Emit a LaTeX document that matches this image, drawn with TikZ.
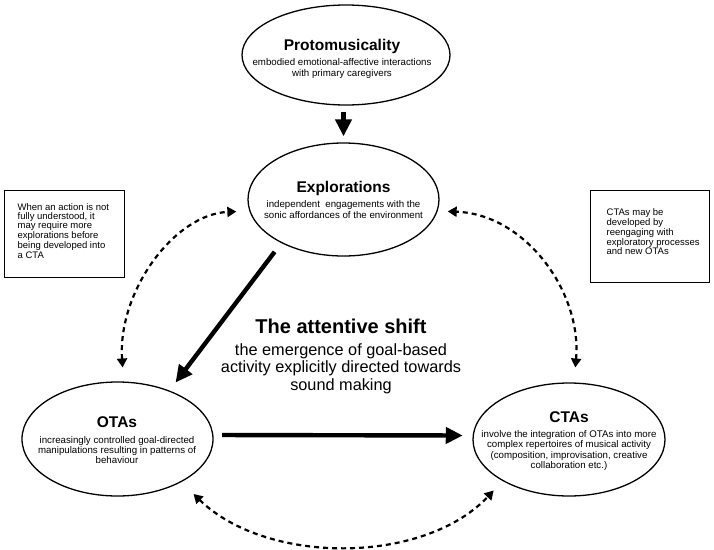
\documentclass[tikz,border=0pt]{standalone}
\usepackage{fontspec}
\setmainfont{Liberation Sans}
\usetikzlibrary{arrows.meta,shapes.geometric}
\newcommand\mytitle{\fontsize{15.5}{17}\selectfont\bfseries}
\newcommand\mysub{\fontsize{9.7}{10.3}\selectfont}
\newcommand\mybox{\fontsize{9.5}{8.5}\selectfont}
\newcommand\ttl[1]{\raisebox{0pt}[\height][0pt]{\mytitle #1}}
\begin{document}
\begin{tikzpicture}[x=1pt,y=-1pt,
  ell/.style={ellipse, draw, line width=1.3pt, inner sep=0pt},
  txt/.style={align=center, inner sep=0pt, anchor=north, font=\mysub},
  box/.style={draw, line width=1.3pt, inner sep=0pt, anchor=north west},
  bigarrow/.style={line width=4.4pt, -{Triangle[length=17pt,width=16pt]}},
  dasharrow/.style={line width=2.2pt, dash pattern=on 5pt off 4pt,
    {Triangle[length=9pt,width=10pt]}-{Triangle[length=9pt,width=10pt]}}]
\useasboundingbox (0,0) rectangle (714,549);

% ellipses
\node[ell, minimum width=208pt, minimum height=100pt] (proto) at (346,55) {};
\node[ell, minimum width=191pt, minimum height=113pt] (exp) at (343.5,199.5) {};
\node[ell, minimum width=191pt, minimum height=114pt] (ota) at (117.5,439) {};
\node[ell, minimum width=192pt, minimum height=113pt] (cta) at (569,439.5) {};

% ellipse texts
\node[txt] (protot) at (342,39.4) {\ttl{Protomusicality}\\[4.7pt]embodied emotional-affective interactions\\with primary caregivers};
\node[txt] (expt) at (343.5,181.4) {\ttl{Explorations}\\[4.7pt]independent\ \ engagements with the\\sonic affordances of the environment};
\node[txt] (otat) at (117,416.4) {\ttl{OTAs}\\[5.5pt]increasingly controlled goal-directed\\manipulations resulting in patterns of\\behaviour};
\node[txt] (ctat) at (569,411.4) {\ttl{CTAs}\\[4.7pt]involve the integration of OTAs into more\\complex repertoires of musical activity\\(composition, improvisation, creative\\collaboration etc.)};

% attentive shift
\node[txt, font=\fontsize{16.3}{17.5}\selectfont] (shift) at (341,319) {{\fontsize{20}{22}\selectfont\bfseries The attentive shift}\\[4pt]the emergence of goal-based\\activity explicitly directed towards\\sound making};

% boxes
\node[box] (lbox) at (4,190) {\parbox[c][87pt][t]{120pt}{\mybox\parindent=0pt\raggedright\leftskip=13pt\vspace*{13pt}When an action is not\\fully understood, it\\may require more\\explorations before\\being developed into\\a CTA}};
\node[box] (rbox) at (590,190) {\parbox[c][92pt][t]{119pt}{\mybox\parindent=0pt\raggedright\leftskip=16pt\vspace*{18pt}CTAs may be\\developed by\\reengaging with\\exploratory processes\\and new OTAs}};

% solid arrows
\draw[bigarrow, shorten <=6pt, shorten >=6pt] (exp.north |- proto.south) -- (exp.north);
\draw[bigarrow, shorten <=11pt, shorten >=10pt] (exp.215) -- (ota.43);
\draw[bigarrow, shorten <=8.4pt, shorten >=9.6pt] ([yshift=4pt]ota.east) -- ([yshift=4pt]cta.west);

% dashed arrows
\draw[dasharrow, shorten <=14pt, shorten >=13pt] (ota.84) .. controls +(-6,-90) and +(-75,3) .. (exp.187);
\draw[dasharrow, shorten <=15pt, shorten >=10pt] (cta.85) .. controls +(8,-90) and +(88,3) .. (exp.353);
\draw[dasharrow, shorten <=17pt, shorten >=13pt] (ota.326) .. controls +(85,83) and +(-79,84) .. (cta.212);
\end{tikzpicture}
\end{document}
